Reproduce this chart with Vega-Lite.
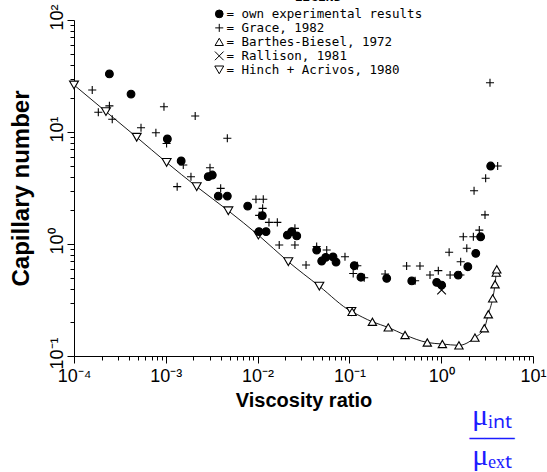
{
  "$schema": "https://vega.github.io/schema/vega-lite/v6.json",
  "width": 459,
  "height": 336,
  "autosize": "none",
  "padding": {"left": 74, "top": 20, "right": 14, "bottom": 116},
  "background": "white",
  "title": {
    "text": ["μᵢₙₜ", "–––"],
    "subtitle": "μₑₓₜ",
    "orient": "bottom",
    "anchor": "end",
    "align": "center",
    "dx": -54,
    "offset": -9,
    "font": "Liberation Serif",
    "fontSize": 30,
    "fontWeight": "normal",
    "color": "#1c1cff",
    "lineHeight": 21,
    "subtitleFont": "Liberation Serif",
    "subtitleFontSize": 30,
    "subtitleColor": "#1c1cff",
    "subtitlePadding": -11
  },
  "data": {
    "values": [
      {"series": "Hinch + Acrivos, 1980", "x": 0.0001, "y": 26.3},
      {"series": "Hinch + Acrivos, 1980", "x": 0.000223, "y": 15.2},
      {"series": "Hinch + Acrivos, 1980", "x": 0.000482, "y": 8.98},
      {"series": "Hinch + Acrivos, 1980", "x": 0.00102, "y": 5.35},
      {"series": "Hinch + Acrivos, 1980", "x": 0.00217, "y": 3.25},
      {"series": "Hinch + Acrivos, 1980", "x": 0.0048, "y": 1.98},
      {"series": "Hinch + Acrivos, 1980", "x": 0.0102, "y": 1.2},
      {"series": "Hinch + Acrivos, 1980", "x": 0.0216, "y": 0.695},
      {"series": "Hinch + Acrivos, 1980", "x": 0.047, "y": 0.42},
      {"series": "Hinch + Acrivos, 1980", "x": 0.105, "y": 0.25},
      {"series": "Barthes-Biesel, 1972", "x": 0.107, "y": 0.248},
      {"series": "Barthes-Biesel, 1972", "x": 0.178, "y": 0.202},
      {"series": "Barthes-Biesel, 1972", "x": 0.265, "y": 0.18},
      {"series": "Barthes-Biesel, 1972", "x": 0.404, "y": 0.154},
      {"series": "Barthes-Biesel, 1972", "x": 0.706, "y": 0.132},
      {"series": "Barthes-Biesel, 1972", "x": 1.03, "y": 0.128},
      {"series": "Barthes-Biesel, 1972", "x": 1.56, "y": 0.1245},
      {"series": "Barthes-Biesel, 1972", "x": 2.33, "y": 0.146},
      {"series": "Barthes-Biesel, 1972", "x": 2.95, "y": 0.177},
      {"series": "Barthes-Biesel, 1972", "x": 3.26, "y": 0.236},
      {"series": "Barthes-Biesel, 1972", "x": 3.64, "y": 0.327},
      {"series": "Barthes-Biesel, 1972", "x": 3.86, "y": 0.437},
      {"series": "Barthes-Biesel, 1972", "x": 3.98, "y": 0.555},
      {"series": "Barthes-Biesel, 1972", "x": 4.03, "y": 0.594},
      {"series": "Grace, 1982", "x": 0.000158, "y": 23.7},
      {"series": "Grace, 1982", "x": 0.000184, "y": 15.0},
      {"series": "Grace, 1982", "x": 0.000243, "y": 17.1},
      {"series": "Grace, 1982", "x": 0.000261, "y": 13.0},
      {"series": "Grace, 1982", "x": 0.000537, "y": 10.9},
      {"series": "Grace, 1982", "x": 0.00078, "y": 9.86},
      {"series": "Grace, 1982", "x": 0.000955, "y": 16.8},
      {"series": "Grace, 1982", "x": 0.00209, "y": 13.9},
      {"series": "Grace, 1982", "x": 0.00102, "y": 7.9},
      {"series": "Grace, 1982", "x": 0.00155, "y": 5.07},
      {"series": "Grace, 1982", "x": 0.00188, "y": 3.99},
      {"series": "Grace, 1982", "x": 0.00133, "y": 3.25},
      {"series": "Grace, 1982", "x": 0.00468, "y": 8.8},
      {"series": "Grace, 1982", "x": 0.00303, "y": 4.8},
      {"series": "Grace, 1982", "x": 0.00396, "y": 3.14},
      {"series": "Grace, 1982", "x": 0.0096, "y": 2.51},
      {"series": "Grace, 1982", "x": 0.01153, "y": 2.51},
      {"series": "Grace, 1982", "x": 0.01135, "y": 2.08},
      {"series": "Grace, 1982", "x": 0.0104, "y": 1.8},
      {"series": "Grace, 1982", "x": 0.0133, "y": 1.56},
      {"series": "Grace, 1982", "x": 0.0164, "y": 1.56},
      {"series": "Grace, 1982", "x": 0.0255, "y": 1.38},
      {"series": "Grace, 1982", "x": 0.0172, "y": 0.98},
      {"series": "Grace, 1982", "x": 0.0255, "y": 0.98},
      {"series": "Grace, 1982", "x": 0.044, "y": 0.95},
      {"series": "Grace, 1982", "x": 0.0566, "y": 0.883},
      {"series": "Grace, 1982", "x": 0.0895, "y": 0.77},
      {"series": "Grace, 1982", "x": 0.0337, "y": 0.65},
      {"series": "Grace, 1982", "x": 0.11, "y": 0.546},
      {"series": "Grace, 1982", "x": 0.122, "y": 0.64},
      {"series": "Grace, 1982", "x": 0.145, "y": 0.5},
      {"series": "Grace, 1982", "x": 0.245, "y": 0.54},
      {"series": "Grace, 1982", "x": 0.52, "y": 0.47},
      {"series": "Grace, 1982", "x": 0.42, "y": 0.637},
      {"series": "Grace, 1982", "x": 0.587, "y": 0.637},
      {"series": "Grace, 1982", "x": 0.755, "y": 0.528},
      {"series": "Grace, 1982", "x": 0.93, "y": 0.578},
      {"series": "Grace, 1982", "x": 1.25, "y": 0.528},
      {"series": "Grace, 1982", "x": 1.22, "y": 0.843},
      {"series": "Grace, 1982", "x": 1.62, "y": 0.528},
      {"series": "Grace, 1982", "x": 1.63, "y": 0.695},
      {"series": "Grace, 1982", "x": 1.74, "y": 1.16},
      {"series": "Grace, 1982", "x": 1.9, "y": 0.916},
      {"series": "Grace, 1982", "x": 2.24, "y": 1.16},
      {"series": "Grace, 1982", "x": 2.6, "y": 1.33},
      {"series": "Grace, 1982", "x": 3.0, "y": 1.82},
      {"series": "Grace, 1982", "x": 2.28, "y": 2.99},
      {"series": "Grace, 1982", "x": 3.05, "y": 3.86},
      {"series": "Grace, 1982", "x": 4.12, "y": 4.97},
      {"series": "Grace, 1982", "x": 3.4, "y": 27.5},
      {"series": "Rallison, 1981", "x": 1.01, "y": 0.388},
      {"series": "own experimental results", "x": 0.000243, "y": 33.0},
      {"series": "own experimental results", "x": 0.000418, "y": 21.8},
      {"series": "own experimental results", "x": 0.00104, "y": 8.66},
      {"series": "own experimental results", "x": 0.00147, "y": 5.51},
      {"series": "own experimental results", "x": 0.0029, "y": 3.99},
      {"series": "own experimental results", "x": 0.00321, "y": 4.13},
      {"series": "own experimental results", "x": 0.00373, "y": 2.68},
      {"series": "own experimental results", "x": 0.00468, "y": 2.68},
      {"series": "own experimental results", "x": 0.0078, "y": 2.18},
      {"series": "own experimental results", "x": 0.01125, "y": 1.79},
      {"series": "own experimental results", "x": 0.01035, "y": 1.29},
      {"series": "own experimental results", "x": 0.01236, "y": 1.29},
      {"series": "own experimental results", "x": 0.0211, "y": 1.2},
      {"series": "own experimental results", "x": 0.0235, "y": 1.29},
      {"series": "own experimental results", "x": 0.0267, "y": 1.18},
      {"series": "own experimental results", "x": 0.044, "y": 0.883},
      {"series": "own experimental results", "x": 0.0499, "y": 0.705},
      {"series": "own experimental results", "x": 0.0552, "y": 0.76},
      {"series": "own experimental results", "x": 0.0663, "y": 0.766},
      {"series": "own experimental results", "x": 0.0715, "y": 0.69},
      {"series": "own experimental results", "x": 0.113, "y": 0.64},
      {"series": "own experimental results", "x": 0.1336, "y": 0.505},
      {"series": "own experimental results", "x": 0.255, "y": 0.494},
      {"series": "own experimental results", "x": 0.478, "y": 0.468},
      {"series": "own experimental results", "x": 0.893, "y": 0.455},
      {"series": "own experimental results", "x": 1.01, "y": 0.43},
      {"series": "own experimental results", "x": 1.53, "y": 0.528},
      {"series": "own experimental results", "x": 1.95, "y": 0.627},
      {"series": "own experimental results", "x": 2.38, "y": 0.826},
      {"series": "own experimental results", "x": 2.69, "y": 1.16},
      {"series": "own experimental results", "x": 3.46, "y": 4.97}
    ]
  },
  "encoding": {
    "x": {
      "field": "x",
      "type": "quantitative",
      "scale": {"type": "log", "domain": [0.0001, 10]},
      "axis": {
        "title": "Viscosity ratio",
        "values": [0.0001,0.0002,0.0003,0.0004,0.0005,0.0006,0.0007,0.0008,0.0009,0.001,0.002,0.003,0.004,0.005,0.006,0.007,0.008,0.009,0.01,0.02,0.03,0.04,0.05,0.06,0.07,0.08,0.09,0.1,0.2,0.3,0.4,0.5,0.6,0.7,0.8,0.9,1,2,3,4,5,6,7,8,9,10],
        "labelExpr": "indexof([0.0001,0.001,0.01,0.1,1,10], datum.value) >= 0 ? ['10⁻⁴','10⁻³','10⁻²','10⁻¹','10⁰','10¹'][indexof([0.0001,0.001,0.01,0.1,1,10], datum.value)] : ''",
        "tickSize": {"condition": {"test": "indexof([0.0001,0.001,0.01,0.1,1,10], datum.value) >= 0", "value": 7}, "value": 4},
        "labelFont": "Liberation Sans",
        "labelFontSize": 18,
        "labelPadding": 4,
        "labelOverlap": false,
        "labelFlush": false,
        "labelBound": false,
        "titleFont": "Liberation Sans",
        "titleFontSize": 20,
        "titleFontWeight": "bold",
        "titlePadding": 5
      }
    },
    "y": {
      "field": "y",
      "type": "quantitative",
      "scale": {"type": "log", "domain": [0.1, 100]},
      "axis": {
        "title": "Capillary number",
        "values": [0.1,0.2,0.3,0.4,0.5,0.6,0.7,0.8,0.9,1,2,3,4,5,6,7,8,9,10,20,30,40,50,60,70,80,90,100],
        "labelExpr": "indexof([0.1,1,10,100], datum.value) >= 0 ? ['10⁻¹','10⁰','10¹','10²'][indexof([0.1,1,10,100], datum.value)] : ''",
        "tickSize": {"condition": {"test": "indexof([0.1,1,10,100], datum.value) >= 0", "value": 7}, "value": 4},
        "labelAngle": -90,
        "labelAlign": "center",
        "labelBaseline": "alphabetic",
        "labelOffset": -3,
        "labelFont": "Liberation Sans",
        "labelFontSize": 18,
        "labelPadding": 5,
        "labelOverlap": false,
        "labelFlush": false,
        "labelBound": false,
        "titleFont": "Liberation Sans",
        "titleFontSize": 24,
        "titleFontWeight": "bold",
        "titlePadding": 15
      }
    }
  },
  "layer": [
    {
      "transform": [{"filter": "datum.series == 'Hinch + Acrivos, 1980' || datum.series == 'Barthes-Biesel, 1972'"}],
      "mark": {"type": "line", "color": "black", "strokeWidth": 0.9, "interpolate": "monotone"},
      "encoding": {"order": {"field": "x", "type": "quantitative"}}
    },
    {
      "mark": {"type": "point", "stroke": "black", "strokeWidth": 1.1, "opacity": 1, "fillOpacity": 1, "strokeOpacity": 1},
      "encoding": {
        "shape": {
          "field": "series",
          "type": "nominal",
          "scale": {
            "domain": ["own experimental results", "Grace, 1982", "Barthes-Biesel, 1972", "Rallison, 1981", "Hinch + Acrivos, 1980"],
            "range": ["circle", "M-1,0L1,0M0,-1L0,1", "triangle-up", "M-1,-1L1,1M-1,1L1,-1", "triangle-down"]
          },
          "legend": {
            "title": "LEGEND",
            "orient": "none",
            "legendX": 139,
            "legendY": -29,
            "padding": 0,
            "symbolOffset": 0,
            "labelOffset": 1,
            "rowPadding": 0,
            "clipHeight": 11.75,
            "labelFont": "DejaVu Sans Mono",
            "labelFontSize": 12.5,
            "labelColor": "black",
            "labelExpr": "'= ' + datum.label",
            "labelLimit": 400,
            "symbolStrokeColor": "black",
            "symbolStrokeWidth": 1,
            "titleFont": "DejaVu Sans Mono",
            "titleFontSize": 13,
            "titleFontWeight": "bold",
            "titleColor": "black",
            "titleAnchor": "middle",
            "titleAlign": "center",
            "titlePadding": 4
          }
        },
        "fill": {
          "field": "series",
          "type": "nominal",
          "scale": {
            "domain": ["own experimental results", "Grace, 1982", "Barthes-Biesel, 1972", "Rallison, 1981", "Hinch + Acrivos, 1980"],
            "range": ["black", "transparent", "white", "transparent", "white"]
          }
        },
        "size": {
          "field": "series",
          "type": "nominal",
          "scale": {
            "domain": ["own experimental results", "Grace, 1982", "Barthes-Biesel, 1972", "Rallison, 1981", "Hinch + Acrivos, 1980"],
            "range": [60, 80, 75, 60, 75]
          }
        }
      }
    }
  ],
  "config": {
    "view": {"stroke": null},
    "axis": {"grid": false, "domainColor": "black", "tickColor": "black", "labelColor": "black", "titleColor": "black"}
  }
}
